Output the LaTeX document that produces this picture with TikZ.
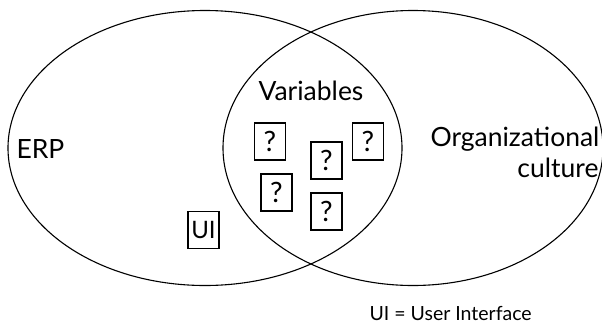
\documentclass[tikz,border=0pt]{standalone}
\usepackage{fontspec}
\setmainfont{Lato}
\begin{document}
\begin{tikzpicture}[x=1pt,y=-1pt,line width=1.1pt,
  label text/.style={inner sep=0pt,font=\fontsize{26.5}{30}\selectfont},
  qbox/.style={draw,line width=1.1pt,minimum width=31pt,minimum height=37pt,
    inner sep=0pt,font=\fontsize{28}{32}\selectfont},
  uibox/.style={qbox,font=\fontsize{24}{28}\selectfont}]
  \useasboundingbox (0,0) rectangle (602,325);
  % the two overlapping sets
  \draw (205,148) ellipse [x radius=197, y radius=137.5];
  \draw (413,148) ellipse [x radius=190, y radius=137.5];
  % set names
  \node[label text,anchor=base west] (erp) at (16,158) {ERP};
  \node[label text,anchor=base] (var) at (311,100) {Variables};
  \node[label text,anchor=base east] (org1) at (600,146) {Organizational};
  \node[label text,anchor=base east] (org2) at (599,177) {culture};
  % unknown variables in the intersection
  \node[qbox] (q1) at (270,141.5) {?};
  \node[qbox] (q2) at (276.5,192.5) {?};
  \node[qbox] (q3) at (326.5,160.5) {?};
  \node[qbox] (q4) at (326.5,211.5) {?};
  \node[qbox] (q5) at (368,141.5) {?};
  \node[uibox] (ui) at (203.5,230) {UI};
  % legend
  \node[inner sep=0pt,anchor=base west,font=\fontsize{19.5}{23}\selectfont] (legend) at (369,320) {UI = User Interface};
\end{tikzpicture}
\end{document}
